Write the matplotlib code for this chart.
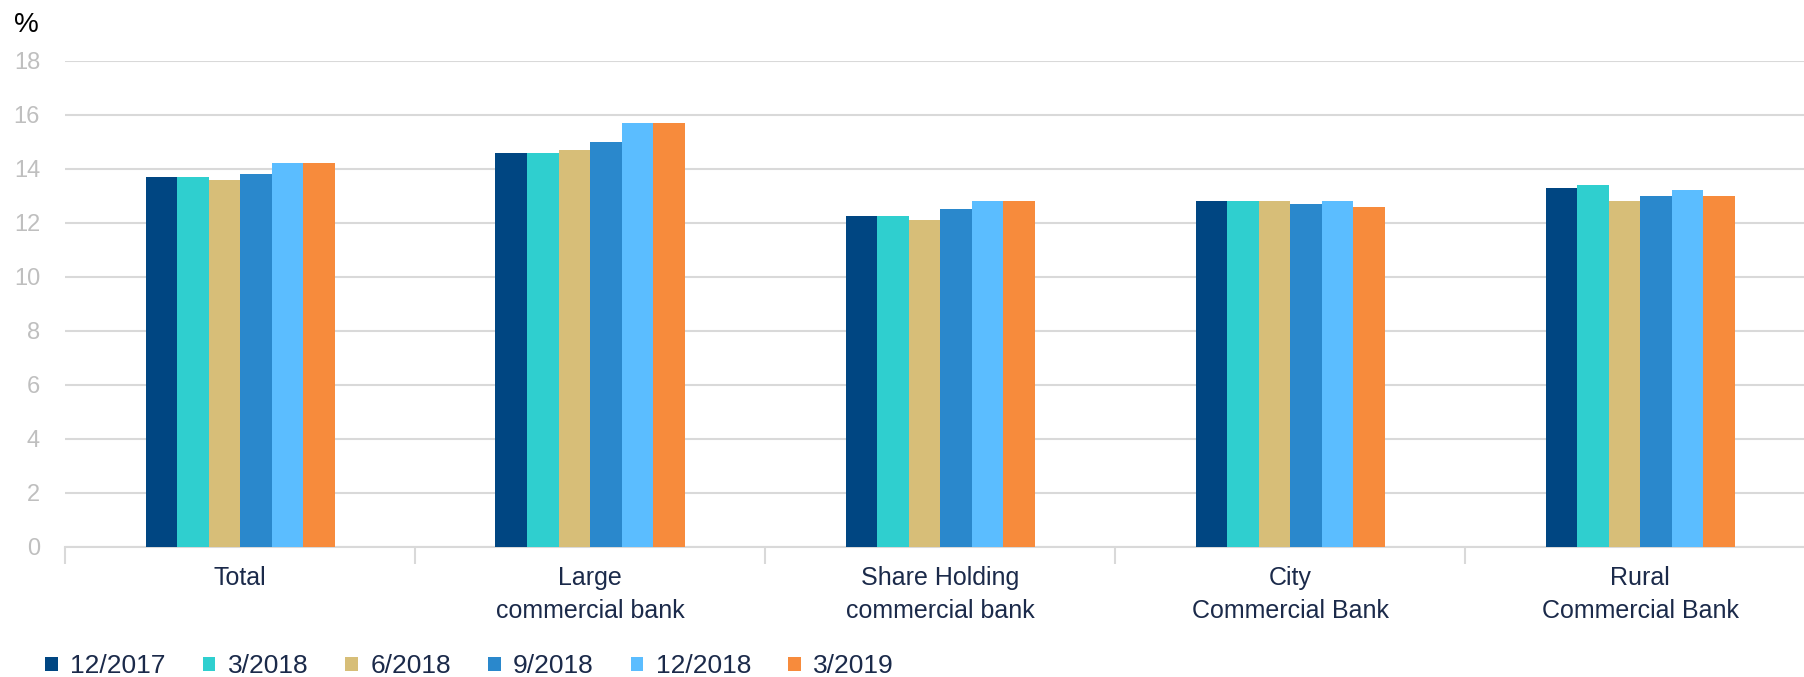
import numpy as np
import matplotlib
matplotlib.use("Agg")
import matplotlib.pyplot as plt

plt.rcParams['font.family'] = ['Liberation Sans', 'DejaVu Sans']

categories = ["Total", "Large\ncommercial bank", "Share Holding\ncommercial bank",
              "City\nCommercial Bank", "Rural\nCommercial Bank"]
periods = ["12/2017", "3/2018", "6/2018", "9/2018", "12/2018", "3/2019"]

s_12_2017 = [13.7, 14.6, 12.25, 12.8, 13.3]
s_3_2018 = [13.7, 14.6, 12.25, 12.8, 13.4]
s_6_2018 = [13.6, 14.7, 12.1, 12.8, 12.8]
s_9_2018 = [13.8, 15.0, 12.5, 12.7, 13.0]
s_12_2018 = [14.2, 15.7, 12.8, 12.8, 13.2]
s_3_2019 = [14.2, 15.7, 12.8, 12.6, 13.0]
series = [s_12_2017, s_3_2018, s_6_2018, s_9_2018, s_12_2018, s_3_2019]

colors = ["#004682", "#2fcfcf", "#d7be78", "#2a88cc", "#5bbdff", "#f78b3c"]

W, H = 1804, 677
fig = plt.figure(figsize=(W / 100, H / 100), dpi=100)
# axis runs past the right edge, like the reference
x0, x1 = 65, 1815
y0, y1 = 546.7, 60.7
ax = fig.add_axes([x0 / W, 1 - y0 / H, (x1 - x0) / W, (y0 - y1) / H])

n = len(categories)
x = np.arange(n)
bw = 0.54 / 6
for i, (vals, lab, c) in enumerate(zip(series, periods, colors)):
    ax.bar(x + (i - 2.5) * bw, vals, bw, color=c, label=lab, zorder=3)

ax.set_xlim(-0.5, n - 0.5)
ax.set_ylim(0, 18)
ax.set_yticks(range(0, 19, 2))
ax.yaxis.grid(True, color="#d9d9d9", linewidth=1.5, zorder=0)
ax.set_axisbelow(True)
for s in ["top", "right", "left"]:
    ax.spines[s].set_visible(False)
ax.spines["bottom"].set_color("#d9d9d9")
ax.spines["bottom"].set_linewidth(1.5)

ax.set_xticks(x)
ax.set_xticklabels(categories, fontsize=18, color="#1b2a4a", linespacing=1.45)
ax.tick_params(axis="x", length=0, pad=14)
ax.set_xticks(np.arange(0, n) - 0.5, minor=True)
ax.tick_params(axis="x", which="minor", length=12, width=1.5, color="#d9d9d9")
ax.tick_params(axis="y", length=0, labelsize=17, labelcolor="#bfbfbf", pad=18)

fig.text(14 / W, 1 - 25 / H, "%", fontsize=20, color="#000000", va="center")

fig.legend(loc="center left", bbox_to_anchor=(45 / W, 1 - 666 / H), ncol=6,
           frameon=False, fontsize=19, labelcolor="#1b2a4a",
           handlelength=0.49, handleheight=0.45, handletextpad=0.46,
           columnspacing=1.4, borderaxespad=0, borderpad=0)

fig.savefig("out.png", dpi=100)
